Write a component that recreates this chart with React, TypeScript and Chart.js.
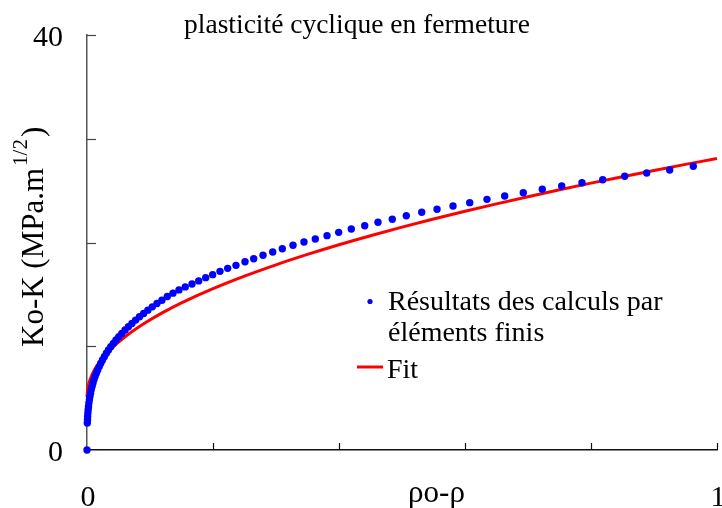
import React, { useEffect, useRef } from "react";
import { Chart, registerables } from "chart.js";

Chart.register(...registerables);

// Finite-element results (blue points)
const feX = [
  0, 0.0005, 0.0008, 0.001, 0.0014, 0.0019, 0.0024, 0.003, 0.0038, 0.0046, 0.0056,
  0.0067, 0.008, 0.0094, 0.011, 0.0128, 0.0148, 0.017, 0.0194, 0.0219, 0.0246,
  0.0275, 0.0307, 0.0341, 0.0378, 0.0418, 0.046, 0.0505, 0.0553, 0.0604, 0.0657,
  0.0713, 0.0772, 0.0834, 0.0899, 0.0966, 0.1037, 0.1111, 0.1189, 0.1275, 0.1365,
  0.146, 0.156, 0.1667, 0.1773, 0.1884, 0.1995, 0.2111, 0.2233, 0.2365, 0.2508,
  0.2646, 0.2794, 0.2948, 0.31, 0.327, 0.3444, 0.3624, 0.381, 0.3995, 0.4195,
  0.4408, 0.4619, 0.4846, 0.5068, 0.5313, 0.5556, 0.581, 0.6075, 0.6349, 0.663,
  0.6925, 0.7227, 0.7535, 0.7857, 0.8186, 0.8535, 0.8884, 0.9249, 0.9624,
];
const feY = [
  0, 2.6, 2.92, 3.24, 3.56, 3.88, 4.2, 4.52, 4.84, 5.16, 5.48,
  5.8, 6.12, 6.44, 6.76, 7.08, 7.4, 7.72, 8.04, 8.36, 8.68,
  9.0, 9.32, 9.64, 9.96, 10.28, 10.6, 10.92, 11.24, 11.56, 11.88,
  12.2, 12.52, 12.84, 13.16, 13.48, 13.8, 14.12, 14.44, 14.79, 15.12,
  15.43, 15.72, 16.0, 16.3, 16.61, 16.9, 17.22, 17.51, 17.8, 18.15,
  18.44, 18.77, 19.08, 19.4, 19.73, 20.05, 20.34, 20.66, 20.98, 21.3,
  21.62, 21.95, 22.24, 22.58, 22.91, 23.2, 23.52, 23.84, 24.16, 24.48,
  24.8, 25.13, 25.45, 25.76, 26.05, 26.38, 26.7, 26.99, 27.35,
];

// Fit curve (red line)
const fitX = [
  0, 0.001, 0.003, 0.006, 0.01, 0.015, 0.022, 0.031, 0.042, 0.055, 0.07, 0.09,
  0.12, 0.15, 0.2, 0.25, 0.3, 0.35, 0.4, 0.45, 0.5, 0.55, 0.6, 0.65, 0.7, 0.75,
  0.8, 0.85, 0.9, 0.95, 1.0, 1.008,
];
const fitY = [
  5.1, 5.88, 6.44, 6.97, 7.51, 8.04, 8.64, 9.29, 9.97, 10.65, 11.35, 12.17,
  13.24, 14.18, 15.55, 16.76, 17.85, 18.85, 19.78, 20.65, 21.48, 22.26, 23.01, 23.72, 24.41, 25.08,
  25.72, 26.34, 26.94, 27.53, 28.1, 28.2,
];

const yTickValues = [0, 10, 20, 30, 40];
const yTickLabels = ["0", "", "", "", "40"];
const xTickValues = [0, 0.2, 0.4, 0.6, 0.8, 1];
const xTickLabels = ["0", "", "", "", "", "1"];

const chartTitle = "plasticité cyclique en fermeture";
const xAxisTitle = "ρo-ρ";
const yAxisTitleMain = "Ko-K (MPa.m";
const yAxisTitleSup = "1/2";
const yAxisTitleEnd = ")";
const legendFE = ["Résultats des calculs par", "éléments finis"];
const legendFit = "Fit";

const SERIF = '"Liberation Serif", "Times New Roman", serif';

const decorPlugin = {
  id: "decor",
  beforeDatasetsDraw(chart: any) {
    const ctx = chart.ctx as CanvasRenderingContext2D;
    const xs = chart.scales.x;
    const ys = chart.scales.y;
    const area = chart.chartArea;
    ctx.save();
    ctx.lineWidth = 1.2;
    ctx.strokeStyle = "#444";
    yTickValues.forEach((v) => {
      if (v === 0) return;
      const py = Math.round(ys.getPixelForValue(v)) + 0.5;
      ctx.beginPath();
      ctx.moveTo(area.left, py);
      ctx.lineTo(area.left + 9, py);
      ctx.stroke();
    });
    ctx.strokeStyle = "#111";
    xTickValues.forEach((v) => {
      if (v === 0) return;
      const px = Math.round(xs.getPixelForValue(v)) + 0.5;
      ctx.beginPath();
      ctx.moveTo(px, area.bottom);
      ctx.lineTo(px, area.bottom - 7);
      ctx.stroke();
    });
    ctx.restore();
  },
  afterDatasetsDraw(chart: any) {
    const ctx = chart.ctx as CanvasRenderingContext2D;
    const xs = chart.scales.x;
    const ys = chart.scales.y;
    const area = chart.chartArea;
    ctx.save();
    ctx.fillStyle = "#000";

    // y tick labels
    ctx.font = `30px ${SERIF}`;
    ctx.textAlign = "right";
    ctx.textBaseline = "alphabetic";
    yTickValues.forEach((v, i) => {
      const lab = yTickLabels[i];
      if (!lab) return;
      ctx.fillText(lab, area.left - 24, ys.getPixelForValue(v) + 11);
    });

    // x tick labels
    ctx.textAlign = "center";
    xTickValues.forEach((v, i) => {
      const lab = xTickLabels[i];
      if (!lab) return;
      ctx.fillText(lab, xs.getPixelForValue(v) + 1, area.bottom + 56);
    });

    // x axis title
    ctx.font = `31px ${SERIF}`;
    ctx.fillText(xAxisTitle, 436.5, area.bottom + 52);

    // chart title
    ctx.font = `27.5px ${SERIF}`;
    ctx.fillText(chartTitle, 357, 33);

    // y axis title (rotated)
    ctx.save();
    ctx.translate(43, 347);
    ctx.rotate(-Math.PI / 2);
    ctx.textAlign = "left";
    ctx.font = `31px ${SERIF}`;
    ctx.fillText(yAxisTitleMain, 0, 0);
    let w = ctx.measureText(yAxisTitleMain).width;
    ctx.font = `21px ${SERIF}`;
    ctx.fillText(yAxisTitleSup, w + 2, -16);
    w += 2 + ctx.measureText(yAxisTitleSup).width + 2;
    ctx.font = `31px ${SERIF}`;
    ctx.fillText(yAxisTitleEnd, w, 0);
    ctx.restore();

    // legend
    ctx.textAlign = "left";
    ctx.font = `28px ${SERIF}`;
    ctx.fillStyle = "#0000ff";
    ctx.beginPath();
    ctx.arc(370, 301.5, 2.6, 0, Math.PI * 2);
    ctx.fill();
    ctx.fillStyle = "#000";
    ctx.fillText(legendFE[0], 388, 310);
    ctx.fillText(legendFE[1], 388, 340.5);
    ctx.strokeStyle = "#ff0000";
    ctx.lineWidth = 3;
    ctx.beginPath();
    ctx.moveTo(357, 367);
    ctx.lineTo(383, 367);
    ctx.stroke();
    ctx.fillText(legendFit, 387, 377.5);
    ctx.restore();
  },
};

export default function App() {
  const ref = useRef<HTMLCanvasElement>(null);
  useEffect(() => {
    document.body.style.margin = "0";
    const canvas = ref.current;
    if (!canvas) return;
    const chart = new Chart(canvas, {
      type: "scatter",
      data: {
        datasets: [
          {
            label: legendFit,
            data: fitX.map((x, i) => ({ x, y: fitY[i] })),
            showLine: true,
            borderColor: "#ff0000",
            backgroundColor: "#ff0000",
            borderWidth: 3,
            pointRadius: 0,
            cubicInterpolationMode: "monotone",
            clip: false,
            order: 2,
          } as any,
          {
            label: legendFE.join(" "),
            data: feX.map((x, i) => ({ x, y: feY[i] })),
            showLine: false,
            backgroundColor: "#0000ff",
            borderWidth: 0,
            pointRadius: 3.7,
            clip: false,
            order: 1,
          } as any,
        ],
      },
      options: {
        responsive: false,
        animation: false,
        devicePixelRatio: 1,
        layout: { padding: { left: 87, right: 5, top: 35, bottom: 58 } },
        plugins: {
          legend: { display: false },
          tooltip: { enabled: false },
          title: { display: false },
        },
        scales: {
          x: {
            type: "linear",
            min: 0,
            max: 1,
            grid: { display: false, drawTicks: false },
            ticks: { display: false },
            border: { display: true, color: "#111", width: 1.5 },
            afterFit: (s: any) => {
              s.height = 0;
            },
          },
          y: {
            type: "linear",
            min: 0,
            max: 40,
            grid: { display: false, drawTicks: false },
            ticks: { display: false },
            border: { display: true, color: "#555", width: 1.5 },
            afterFit: (s: any) => {
              s.width = 0;
            },
          },
        },
      } as any,
      plugins: [decorPlugin],
    });
    return () => chart.destroy();
  }, []);
  return (
    <div style={{ width: 722, height: 508 }}>
      <canvas ref={ref} width={722} height={508} style={{ display: "block" }} />
    </div>
  );
}
